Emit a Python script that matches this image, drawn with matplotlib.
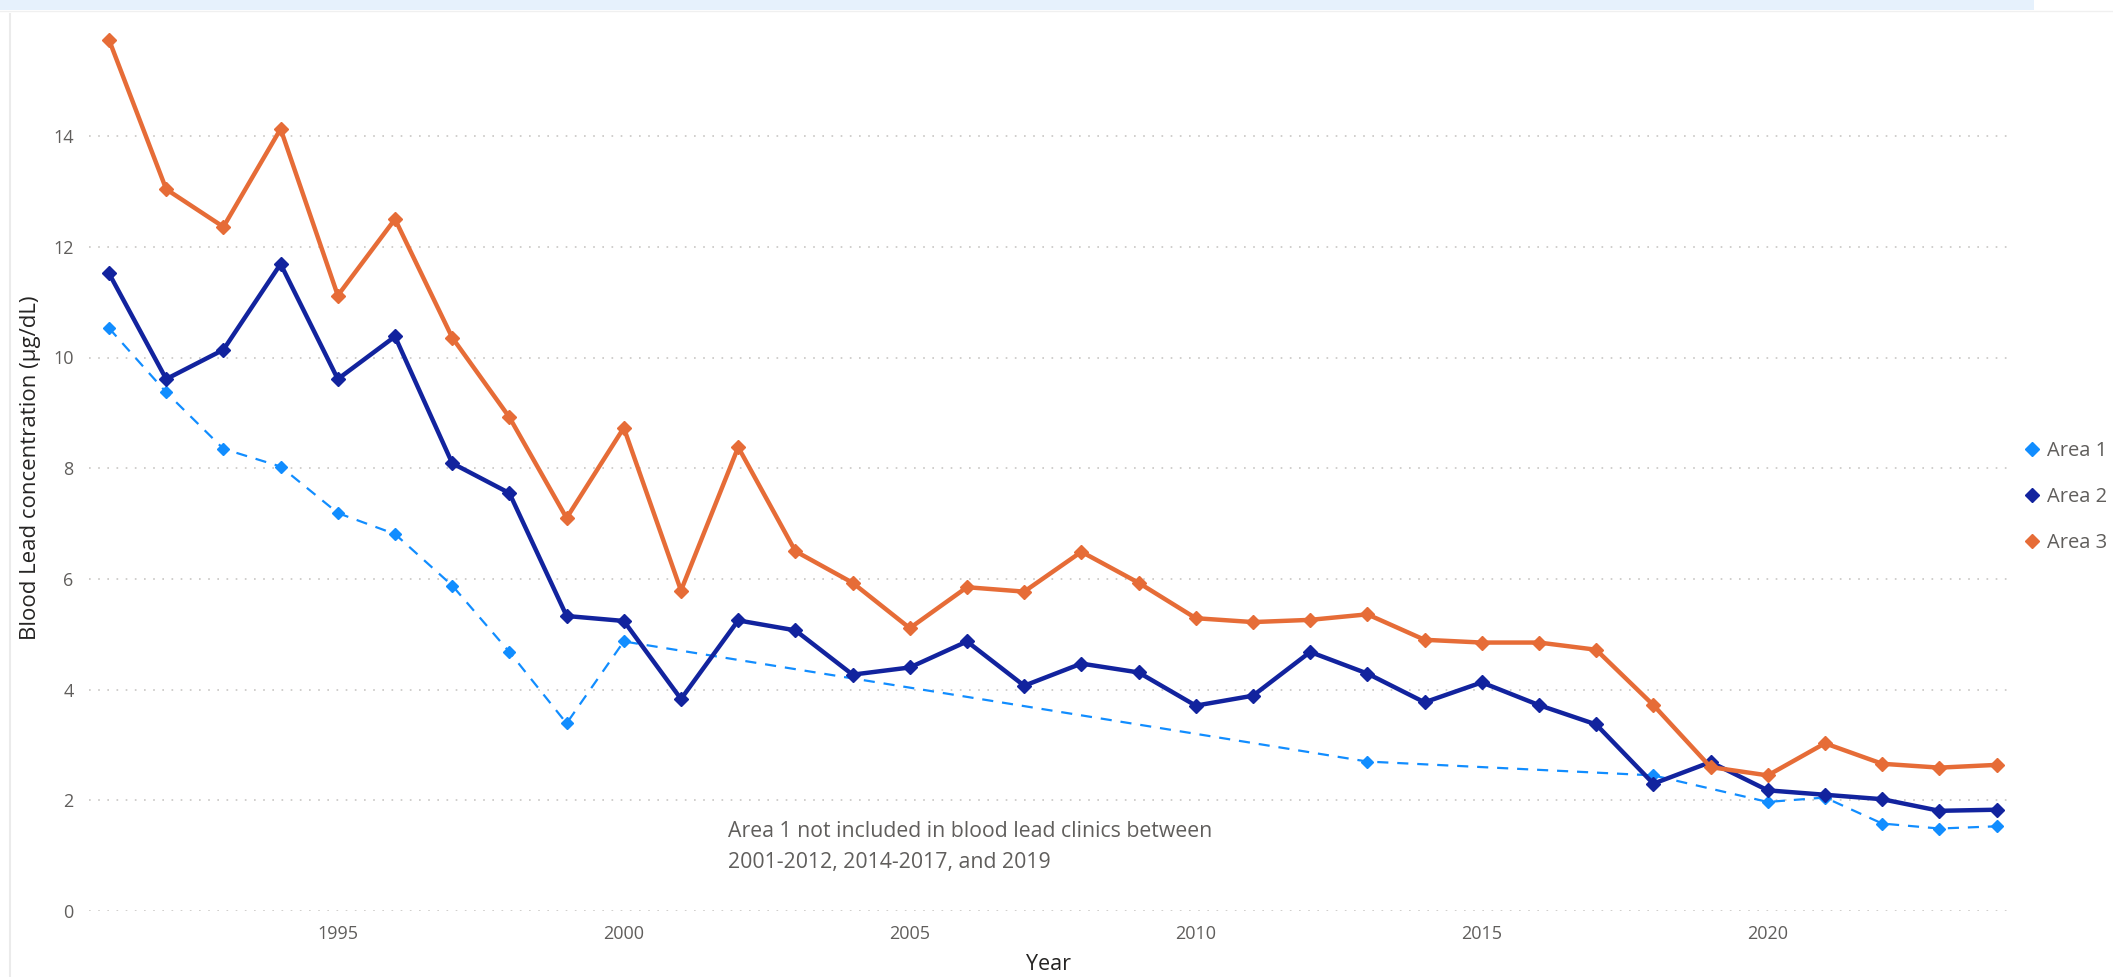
import matplotlib
matplotlib.use("Agg")
import matplotlib.pyplot as plt
from matplotlib.lines import Line2D
from matplotlib.patches import Rectangle

plt.rcParams['font.family'] = ['Open Sans', 'DejaVu Sans']

# ---- data ----
years = list(range(1991, 2025))
area1_years = [1991, 1992, 1993, 1994, 1995, 1996, 1997, 1998, 1999, 2000,
               2013, 2018, 2020, 2021, 2022, 2023, 2024]
area1 = [10.53, 9.37, 8.35, 8.03, 7.19, 6.81, 5.88, 4.68, 3.39, 4.87,
         2.70, 2.45, 1.97, 2.05, 1.58, 1.49, 1.53]
area2 = [11.52, 9.61, 10.14, 11.69, 9.61, 10.38, 8.09, 7.55, 5.33, 5.24,
         3.83, 5.25, 5.07, 4.27, 4.40, 4.87, 4.07, 4.47, 4.31, 3.71,
         3.89, 4.68, 4.29, 3.77, 4.13, 3.72, 3.37, 2.30, 2.69, 2.18,
         2.10, 2.02, 1.81, 1.83]
area3 = [15.74, 13.04, 12.36, 14.13, 11.12, 12.50, 10.36, 8.92, 7.10, 8.73,
         5.79, 8.38, 6.50, 5.93, 5.11, 5.85, 5.77, 6.49, 5.93, 5.29,
         5.22, 5.26, 5.36, 4.90, 4.85, 4.85, 4.72, 3.72, 2.60, 2.45,
         3.03, 2.66, 2.59, 2.64]
series_names = ["Area 1", "Area 2", "Area 3"]
colors = ["#118DFF", "#12239E", "#E66C37"]
yticks = [0, 2, 4, 6, 8, 10, 12, 14]
xticks = [1995, 2000, 2005, 2010, 2015, 2020]
note = "Area 1 not included in blood lead clinics between\n2001-2012, 2014-2017, and 2019"

W, H = 2113, 977
fig = plt.figure(figsize=(W / 100, H / 100), dpi=100)
fig.patch.set_facecolor("white")

# top band and faint left border
fig.patches.append(Rectangle((0, 1 - 10 / H), 2034 / W, 10 / H, transform=fig.transFigure,
                             facecolor="#E6F1FC", edgecolor="none", zorder=0))
fig.add_artist(Line2D([0, 1], [1 - 11 / H, 1 - 11 / H], transform=fig.transFigure,
                      color="#F0F0F0", lw=1.0))
fig.add_artist(Line2D([10 / W, 10 / W], [0, 1 - 14 / H], transform=fig.transFigure,
                      color="#EBEBEB", lw=1.5))

left, right = 89 / W, 2008 / W
bottom = (H - 911) / H
top = (H - 25.4) / H
ax = fig.add_axes([left, bottom, right - left, top - bottom])

ax.plot(area1_years, area1, color=colors[0], lw=1.6, ls=(0, (5, 4)),
        marker="D", ms=6.5, mec=colors[0], mfc=colors[0], zorder=3)
ax.plot(years, area2, color=colors[1], lw=3.2, marker="D", ms=7,
        mec=colors[1], mfc=colors[1], zorder=4)
ax.plot(years, area3, color=colors[2], lw=3.2, marker="D", ms=7,
        mec=colors[2], mfc=colors[2], zorder=5)

ax.set_xlim(1990.65, 2024.2)
ax.set_ylim(0, 16)
ax.set_yticks(yticks)
ax.set_xticks(xticks)
for s in ax.spines.values():
    s.set_visible(False)
ax.tick_params(axis="both", length=0, labelsize=13, labelcolor="#605E5C")
ax.tick_params(axis="y", pad=11)
ax.tick_params(axis="x", pad=10)
ax.grid(axis="y", color="#C8C6C4", ls=(0, (1, 4.5)), lw=1.2)
ax.grid(axis="x", visible=False)
ax.set_axisbelow(True)

ax.set_xlabel("Year", fontsize=15.5, color="#252423")
ax.xaxis.set_label_coords(0.5, -0.049)
ax.set_ylabel("Blood Lead concentration (µg/dL)", fontsize=16, color="#252423")
ax.yaxis.set_label_coords(-0.0250, 0.5)

fig.text(728 / W, 1 - 847 / H, note, fontsize=15.3, color="#605E5C",
         ha="left", va="center", linespacing=1.6)

handles = [Line2D([], [], ls="none", marker="D", ms=7.5, color=c) for c in colors]
leg = fig.legend(handles, series_names, loc="center left",
                 bbox_to_anchor=(2025 / W, 1 - 497 / H), frameon=False,
                 fontsize=14.5, handlelength=0.7, handletextpad=0.38,
                 labelspacing=1.3, borderpad=0, borderaxespad=0)
for t in leg.get_texts():
    t.set_color("#605E5C")

fig.savefig("out.png", dpi=100, facecolor="white")
